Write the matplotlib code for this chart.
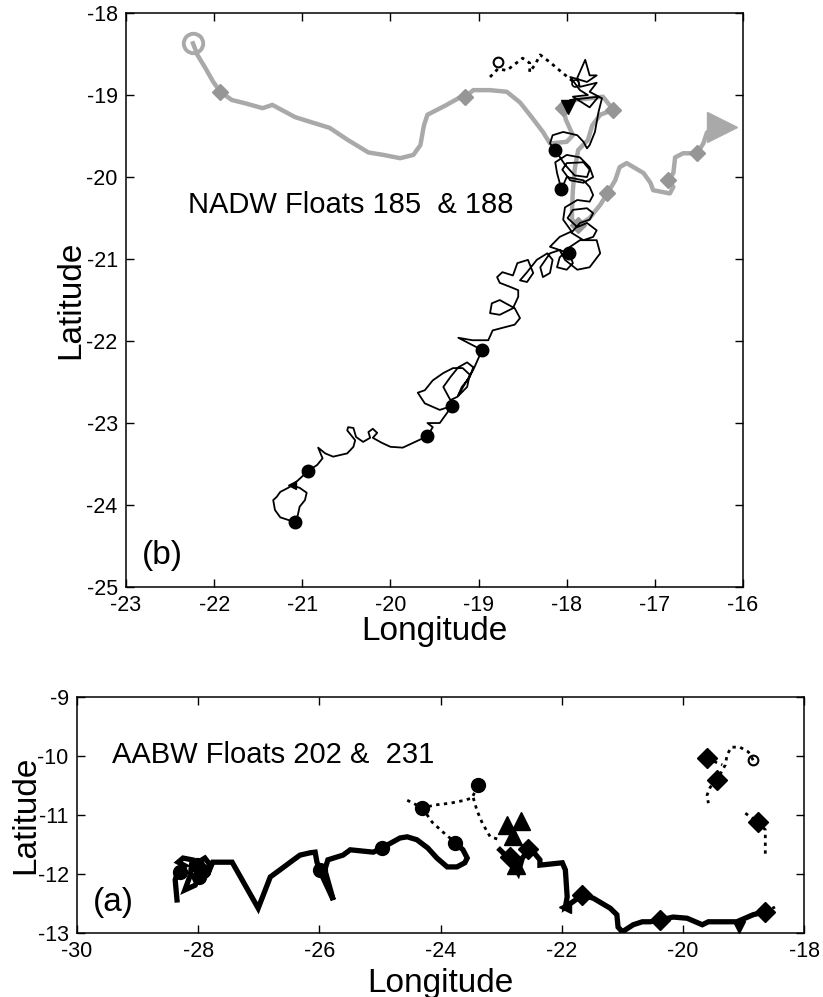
import matplotlib
matplotlib.use("Agg")
import matplotlib.pyplot as plt
import numpy as np

plt.rcParams['font.family'] = ['Liberation Sans', 'DejaVu Sans']
plt.rcParams['axes.unicode_minus'] = False

# ---------------- panel (b): NADW floats 185 & 188 ----------------
# float 185 (grey, thick)
f185_lon = [-22.24, -22.19, -22.10, -22.01, -21.93, -21.80, -21.65, -21.45, -21.34, -21.08,
            -20.69, -20.48, -20.25, -20.08, -19.89, -19.74, -19.66, -19.62, -19.58, -19.38,
            -19.23, -19.15, -19.06, -18.87, -18.68, -18.53, -18.39, -18.27, -18.19, -18.00,
            -17.93, -18.01, -18.04, -17.91, -17.74, -17.59, -17.47, -17.62, -17.71, -17.76,
            -17.87, -17.91, -17.93, -17.94, -17.94, -17.87, -17.74, -17.62, -17.54, -17.45,
            -17.40, -17.32, -17.13, -17.05, -17.02, -16.83, -16.79, -16.85, -16.79, -16.77,
            -16.68, -16.52, -16.45, -16.41, -16.34]
f185_lat = [-18.37, -18.51, -18.67, -18.84, -18.96, -19.06, -19.10, -19.16, -19.12, -19.27,
            -19.40, -19.55, -19.70, -19.73, -19.77, -19.73, -19.61, -19.37, -19.24, -19.13,
            -19.04, -19.02, -18.94, -18.94, -18.96, -19.09, -19.28, -19.45, -19.59, -19.57,
            -19.49, -19.30, -19.16, -19.06, -19.04, -19.02, -19.18, -19.24, -19.37, -19.55,
            -19.67, -19.91, -20.16, -20.40, -20.52, -20.59, -20.50, -20.34, -20.20, -20.04,
            -19.88, -19.83, -19.95, -20.07, -20.16, -20.20, -20.12, -20.04, -19.95, -19.76,
            -19.71, -19.71, -19.59, -19.46, -19.39]
f185_diam_lon = [-21.93, -19.15, -18.04, -17.47, -17.87, -17.54, -16.85, -16.52]
f185_diam_lat = [-18.96, -19.02, -19.16, -19.18, -20.59, -20.20, -20.04, -19.71]
f185_start = (-22.24, -18.37)
f185_end = (-16.24, -19.39)

# float 188 (black, thin)
f188 = [(-21.12, -23.76), (-21.16, -23.79), (-21.25, -23.84), (-21.29, -23.90), (-21.33, -23.94),
        (-21.31, -24.06), (-21.25, -24.15), (-21.08, -24.21), (-21.05, -24.12), (-21.03, -24.02),
        (-20.97, -23.94), (-20.95, -23.85), (-21.03, -23.79), (-21.12, -23.76), (-21.05, -23.70),
        (-20.94, -23.59), (-20.83, -23.51), (-20.77, -23.43), (-20.82, -23.30), (-20.74, -23.37),
        (-20.65, -23.41), (-20.49, -23.37), (-20.42, -23.29), (-20.40, -23.21), (-20.49, -23.09),
        (-20.48, -23.05), (-20.42, -23.06), (-20.39, -23.17), (-20.31, -23.23), (-20.23, -23.18),
        (-20.25, -23.11), (-20.20, -23.07), (-20.15, -23.12), (-20.20, -23.18), (-20.10, -23.24),
        (-20.00, -23.29), (-19.86, -23.30), (-19.74, -23.24), (-19.58, -23.16), (-19.52, -23.05),
        (-19.58, -23.00), (-19.44, -23.00), (-19.36, -22.88), (-19.30, -22.79), (-19.44, -22.84),
        (-19.61, -22.76), (-19.69, -22.63), (-19.61, -22.60), (-19.52, -22.48), (-19.40, -22.39),
        (-19.29, -22.33), (-19.18, -22.33), (-19.10, -22.41), (-19.13, -22.56), (-19.24, -22.68),
        (-19.32, -22.72), (-19.40, -22.56), (-19.32, -22.44), (-19.23, -22.32), (-19.13, -22.26),
        (-19.06, -22.32), (-19.10, -22.44), (-19.19, -22.56), (-19.23, -22.66), (-19.06, -22.35),
        (-18.96, -22.11), (-19.23, -21.96), (-19.07, -21.99), (-18.89, -21.99), (-18.84, -21.87),
        (-18.59, -21.80), (-18.53, -21.72), (-18.59, -21.60), (-18.76, -21.50), (-18.85, -21.54),
        (-18.87, -21.66), (-18.76, -21.68), (-18.61, -21.60), (-18.55, -21.46), (-18.55, -21.38),
        (-18.64, -21.34), (-18.76, -21.29), (-18.79, -21.22), (-18.73, -21.16), (-18.61, -21.20),
        (-18.56, -21.05), (-18.44, -21.01), (-18.38, -21.17), (-18.45, -21.28), (-18.53, -21.26),
        (-18.45, -21.16), (-18.34, -21.01), (-18.22, -20.93), (-18.16, -21.01), (-18.19, -21.17),
        (-18.27, -21.22), (-18.30, -21.10), (-18.19, -20.93), (-18.08, -20.89), (-17.97, -20.93),
        (-17.93, -21.05), (-18.00, -21.13), (-18.11, -21.10), (-18.08, -20.98), (-17.96, -20.85),
        (-17.85, -20.77), (-17.66, -20.77), (-17.62, -20.93), (-17.74, -21.10), (-17.88, -21.13),
        (-18.02, -21.01), (-18.08, -20.89), (-18.19, -20.85), (-18.08, -20.73), (-17.96, -20.67),
        (-17.81, -20.77), (-17.70, -20.73), (-17.66, -20.65), (-17.77, -20.56), (-17.88, -20.61),
        (-17.99, -20.50), (-17.93, -20.40), (-17.77, -20.38), (-17.70, -20.44), (-17.74, -20.52),
        (-17.85, -20.56), (-17.94, -20.67), (-18.04, -20.52), (-18.02, -20.37), (-17.88, -20.28),
        (-17.74, -20.30), (-17.70, -20.22), (-17.74, -20.12), (-17.81, -20.04), (-18.00, -20.00),
        (-18.06, -20.15), (-18.11, -19.95), (-18.13, -19.82), (-18.00, -19.73), (-17.85, -19.76),
        (-17.74, -19.88), (-17.70, -20.00), (-17.81, -20.07), (-17.96, -20.04), (-18.05, -19.91),
        (-18.00, -19.83), (-17.81, -19.82), (-17.74, -19.91), (-17.77, -20.00), (-17.91, -19.98),
        (-18.02, -19.85), (-18.13, -19.67), (-18.19, -19.59), (-18.16, -19.49), (-18.04, -19.45),
        (-17.88, -19.49), (-17.81, -19.57), (-17.77, -19.65), (-17.74, -19.61), (-17.68, -19.45),
        (-17.64, -19.21), (-17.60, -19.04), (-17.74, -18.96), (-17.66, -18.85), (-17.85, -18.90),
        (-17.88, -18.79), (-17.79, -18.57), (-17.74, -18.76), (-17.66, -18.76), (-17.77, -18.84),
        (-17.96, -18.78), (-17.85, -18.94), (-17.76, -19.00), (-17.93, -19.02), (-17.74, -19.15),
        (-17.64, -19.02), (-17.96, -19.06)]
f188_dot_lon = [-21.08, -20.94, -19.58, -19.30, -18.96, -17.97, -18.06, -18.13]
f188_dot_lat = [-24.21, -23.59, -23.16, -22.79, -22.11, -20.93, -20.15, -19.67]
f188_end = (-17.99, -19.15)

# dotted segment near the top
top_dot_lon = [-18.87, -18.78, -18.68, -18.50, -18.42, -18.42, -18.36, -18.30, -18.19, -18.08, -17.99, -17.91]
top_dot_lat = [-18.78, -18.68, -18.70, -18.55, -18.61, -18.72, -18.63, -18.51, -18.60, -18.70, -18.78, -18.85]
top_dot_start = (-18.78, -18.60)

# ---------------- panel (a): AABW floats 202 & 231 ----------------
f202 = [(-28.35, -12.44), (-28.38, -12.10), (-28.33, -11.93), (-28.22, -11.86), (-28.33, -11.80),
        (-28.25, -11.73), (-28.10, -11.76), (-28.13, -12.02), (-28.22, -12.27), (-28.05, -12.19),
        (-27.97, -12.02), (-28.00, -11.80), (-27.89, -11.73), (-27.80, -11.85), (-27.85, -12.02),
        (-27.76, -11.80), (-27.44, -11.80), (-27.01, -12.58), (-26.81, -12.05), (-26.65, -11.93),
        (-26.48, -11.80), (-26.32, -11.68), (-26.15, -11.64), (-26.07, -11.63), (-26.04, -11.80),
        (-25.96, -12.02), (-25.77, -12.44), (-25.91, -11.93), (-25.86, -11.76), (-25.61, -11.68),
        (-25.49, -11.59), (-25.11, -11.63), (-24.97, -11.56), (-24.67, -11.39), (-24.55, -11.37),
        (-24.39, -11.42), (-24.21, -11.56), (-24.06, -11.73), (-23.89, -11.88), (-23.73, -11.88),
        (-23.60, -11.81), (-23.56, -11.73), (-23.63, -11.59), (-23.76, -11.47)]
f202_dot_lon = [-28.30, -28.02, -27.92, -27.98, -25.99, -24.97, -23.76]
f202_dot_lat = [-11.97, -11.85, -11.95, -12.05, -11.93, -11.56, -11.47]

f231 = [(-23.02, -11.59), (-22.85, -11.76), (-22.72, -11.98), (-22.65, -11.73), (-22.52, -11.56),
        (-22.36, -11.76), (-22.36, -11.85), (-21.99, -11.81), (-21.94, -11.93), (-21.91, -12.39),
        (-21.94, -12.56), (-21.66, -12.36), (-21.48, -12.41), (-21.20, -12.58), (-21.09, -12.69),
        (-21.07, -12.90), (-21.00, -12.98), (-20.82, -12.86), (-20.67, -12.81), (-20.54, -12.81),
        (-20.38, -12.78), (-20.16, -12.73), (-19.93, -12.75), (-19.68, -12.86), (-19.58, -12.81),
        (-19.11, -12.81), (-18.84, -12.69), (-18.64, -12.64)]
f231_diam_lon = [-22.55, -22.85, -21.66, -20.38, -18.64]
f231_diam_lat = [-11.57, -11.72, -12.36, -12.78, -12.64]
f231_tri_lon = [-22.90, -22.68, -22.80, -22.75]
f231_tri_lat = [-11.17, -11.10, -11.35, -11.85]

# dotted pieces in panel (a)
dot_a1_lon = [-24.55, -24.30, -24.09, -23.84, -23.60, -23.48, -23.38]
dot_a1_lat = [-10.75, -10.88, -10.83, -10.80, -10.75, -10.71, -10.49]
dot_a2_lon = [-24.30, -24.14, -23.96, -23.81, -23.76]
dot_a2_lat = [-10.88, -11.12, -11.29, -11.42, -11.47]
dot_a3_lon = [-23.46, -23.40, -23.31, -23.18, -23.02]
dot_a3_lat = [-10.71, -10.92, -11.14, -11.37, -11.42]
dot_a_circ_lon = [-24.30, -23.38]
dot_a_circ_lat = [-10.88, -10.49]

dot_r1_lon = [-18.84, -18.92, -19.06, -19.20, -19.27, -19.30, -19.39, -19.44]
dot_r1_lat = [-10.07, -9.93, -9.85, -9.85, -9.98, -10.15, -10.32, -10.41]
dot_r2_lon = [-19.60, -19.47, -19.35]
dot_r2_lat = [-10.03, -10.10, -10.15]
dot_r3_lon = [-19.44, -19.55, -19.60, -19.58]
dot_r3_lat = [-10.41, -10.53, -10.66, -10.80]
dot_r4_lon = [-18.97, -18.76, -18.64, -18.64, -18.64]
dot_r4_lat = [-10.97, -11.12, -11.25, -11.51, -11.71]
dot_r_diam_lon = [-19.60, -19.44, -18.76]
dot_r_diam_lat = [-10.03, -10.41, -11.12]
tail_lon = [-18.64, -18.48]
tail_lat = [-12.64, -12.56]

grey = '#a9a9a9'
dgrey = '#969696'
dots = (0, (1.2, 1.6))

fig = plt.figure(figsize=(8.23, 9.97), dpi=100)


def style_axes(ax):
    ax.tick_params(direction='in', length=6, width=1, top=True, right=True,
                   labelsize=15.5, pad=6)
    for s in ax.spines.values():
        s.set_linewidth(1.1)


# ---- panel (b)
ax1 = fig.add_axes([0.1531, 0.4112, 0.7497, 0.5757])
b = np.array(f188)
ax1.plot(f185_lon, f185_lat, color=grey, lw=3.2, solid_joinstyle='round', zorder=2)
ax1.plot(*f185_start, 'o', ms=14, mfc='none', mec=grey, mew=2.8, zorder=2)
ax1.plot(*f185_end, '>', ms=22, color=grey, mec=grey, zorder=2)
ax1.plot(f185_diam_lon, f185_diam_lat, 'D', ms=8, color=dgrey, mec=dgrey, zorder=2)
ax1.plot(b[:, 0], b[:, 1], color='black', lw=1.3, zorder=3)
ax1.plot(f188_dot_lon, f188_dot_lat, 'o', ms=9, color='black', zorder=4)
ax1.plot(*f188_end, 'v', ms=10, color='black', zorder=4)
ax1.plot(-21.12, -23.76, '<', ms=6, color='black', zorder=4)
ax1.plot(top_dot_lon, top_dot_lat, color='black', lw=2, linestyle=dots, zorder=3)
ax1.plot(*top_dot_start, 'o', ms=7, mfc='none', mec='black', mew=1.5, zorder=4)
ax1.plot(-17.91, -18.85, 'o', ms=5, mfc='none', mec='black', mew=1.2, zorder=4)
ax1.text(-22.30, -20.34, 'NADW Floats 185  & 188', fontsize=21, va='center', ha='left')
ax1.text(-22.82, -24.62, '(b)', fontsize=24, va='center', ha='left')
ax1.set_xlim(-23, -16)
ax1.set_ylim(-25, -18)
ax1.set_xticks(np.arange(-23, -15, 1))
ax1.set_yticks(np.arange(-25, -17, 1))
ax1.set_xlabel('Longitude', fontsize=24, labelpad=0)
ax1.set_ylabel('Latitude', fontsize=24, labelpad=0)
style_axes(ax1)

# ---- panel (a)
ax2 = fig.add_axes([0.0936, 0.0642, 0.8834, 0.2367])
a1 = np.array(f202)
a2 = np.array(f231)
ax2.plot(a1[:, 0], a1[:, 1], color='black', lw=3.8, solid_joinstyle='miter', zorder=3)
ax2.plot(f202_dot_lon, f202_dot_lat, 'o', ms=10, color='black', zorder=4)
ax2.plot(a2[:, 0], a2[:, 1], color='black', lw=3.8, solid_joinstyle='miter', zorder=3)
ax2.plot(f231_diam_lon, f231_diam_lat, 'D', ms=10, color='black', zorder=4)
ax2.plot(f231_tri_lon, f231_tri_lat, '^', ms=13, color='black', zorder=4)
ax2.plot(-21.94, -12.56, '<', ms=9, color='black', zorder=4)
ax2.plot(-19.08, -12.90, 'v', ms=8, color='black', zorder=4)
for xs, ys in [(dot_a1_lon, dot_a1_lat), (dot_a2_lon, dot_a2_lat), (dot_a3_lon, dot_a3_lat),
               (dot_r1_lon, dot_r1_lat), (dot_r2_lon, dot_r2_lat), (dot_r3_lon, dot_r3_lat),
               (dot_r4_lon, dot_r4_lat), (tail_lon, tail_lat)]:
    ax2.plot(xs, ys, color='black', lw=2, linestyle=dots, zorder=3)
ax2.plot(dot_a_circ_lon, dot_a_circ_lat, 'o', ms=10, color='black', zorder=4)
ax2.plot(dot_r_diam_lon, dot_r_diam_lat, 'D', ms=10, color='black', zorder=4)
ax2.plot(-18.84, -10.07, 'o', ms=7, mfc='none', mec='black', mew=1.5, zorder=4)
ax2.text(-29.42, -9.98, 'AABW Floats 202 &  231', fontsize=21, va='center', ha='left')
ax2.text(-29.74, -12.49, '(a)', fontsize=24, va='center', ha='left')
ax2.set_xlim(-30, -18)
ax2.set_ylim(-13, -9)
ax2.set_xticks(np.arange(-30, -17, 2))
ax2.set_yticks(np.arange(-13, -8, 1))
ax2.set_xlabel('Longitude', fontsize=24, labelpad=4)
ax2.set_ylabel('Latitude', fontsize=24, labelpad=-3)
style_axes(ax2)

fig.savefig('out.png', dpi=100)
